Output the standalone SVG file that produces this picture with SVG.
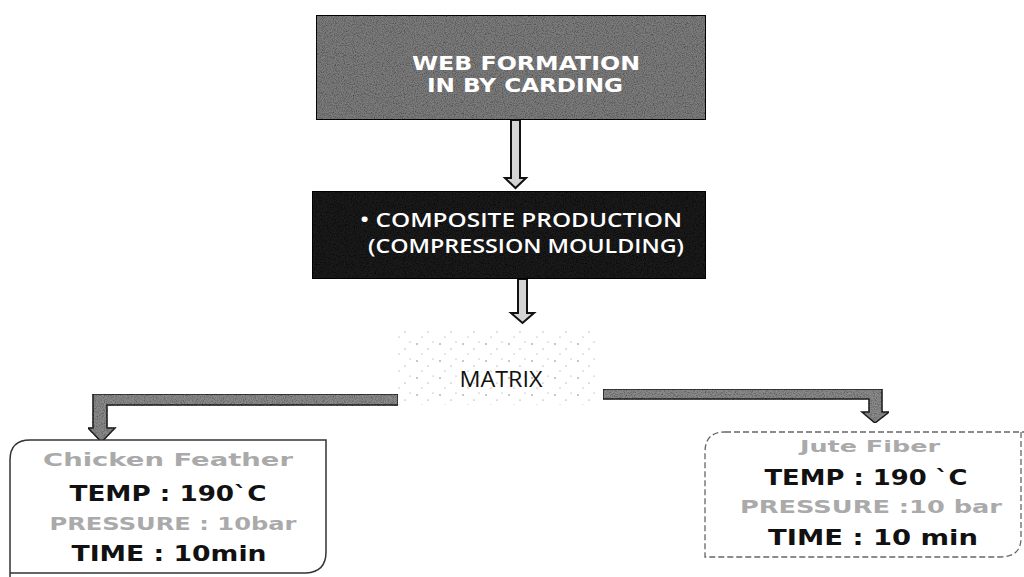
<svg xmlns="http://www.w3.org/2000/svg" width="1024" height="577" viewBox="0 0 1024 577">
  <defs>
    <filter id="grain" x="0" y="0" width="100%" height="100%">
      <feTurbulence type="fractalNoise" baseFrequency="0.9" numOctaves="2" seed="3" result="n"/>
      <feColorMatrix in="n" type="matrix" values="0 0 0 0 0  0 0 0 0 0  0 0 0 0 0  0 0 0 1.4 -0.55" result="dots"/>
      <feComposite in="dots" in2="SourceGraphic" operator="in" result="d"/>
      <feMerge><feMergeNode in="SourceGraphic"/><feMergeNode in="d"/></feMerge>
    </filter>
    <pattern id="speck" width="23" height="17" patternUnits="userSpaceOnUse">
      <circle cx="3" cy="4" r="0.7" fill="#666"/>
      <circle cx="14" cy="9" r="0.6" fill="#777"/>
      <circle cx="8" cy="14" r="0.6" fill="#888"/>
      <circle cx="19" cy="2" r="0.5" fill="#777"/>
    </pattern>
    <style>
      .arrow { fill: #d4d4d4; stroke: #111; stroke-width: 2; stroke-linejoin: miter; }
      .bar { fill: #8a8a8a; stroke: #222; stroke-width: 1.5; }
      .title { font-family: "DejaVu Sans", "Liberation Sans", sans-serif; font-weight: bold; fill: #fff; text-anchor: middle; }
      .calibri { font-family: "Open Sans", "Liberation Sans", sans-serif; text-anchor: middle; }
      .bold { font-family: "DejaVu Sans", "Liberation Sans", sans-serif; font-weight: bold; fill: #111; text-anchor: middle; }
      .faint { font-family: "DejaVu Sans", "Liberation Sans", sans-serif; font-weight: bold; fill: #aaa; text-anchor: middle; }
    </style>
  </defs>
  <rect width="1024" height="577" fill="#fff"/>

  <g id="connectors">
    <path class="arrow" d="M511,120 L520,120 L520,178 L526,178 L515.5,188 L505,178 L511,178 Z"/>
    <path class="arrow" d="M518,279 L527,279 L527,313 L534,313 L522.5,323 L511,313 L518,313 Z"/>
    <path class="bar" d="M398,394 L93,394 L93,428 L88,428 L101.5,442 L115,428 L107,428 L107,405 L398,405 Z" filter="url(#grain)"/>
    <path class="bar" d="M603,389 L882,389 L882,412 L889,412 L875,423 L862,412 L869,412 L869,399 L603,399 Z" filter="url(#grain)"/>
  </g>

  <g id="web-formation">
    <rect x="316" y="15" width="390" height="105" fill="#7c7c7c" stroke="#111" stroke-width="2" filter="url(#grain)"/>
    <text class="title" x="526" y="70" font-size="20" textLength="228" lengthAdjust="spacingAndGlyphs">WEB FORMATION</text>
    <text class="title" x="525" y="92" font-size="20" textLength="196" lengthAdjust="spacingAndGlyphs">IN BY CARDING</text>
  </g>

  <g id="composite">
    <rect x="312" y="191" width="394" height="88" fill="#1c1c1c" stroke="#000" stroke-width="2" filter="url(#grain)"/>
    <text class="calibri" x="521" y="227" font-size="20" font-weight="600" fill="#fff" textLength="322" lengthAdjust="spacingAndGlyphs">• COMPOSITE  PRODUCTION</text>
    <text class="calibri" x="526" y="253" font-size="20" font-weight="600" fill="#fff" textLength="316" lengthAdjust="spacingAndGlyphs">(COMPRESSION MOULDING)</text>
  </g>

  <g id="matrix">
    <rect x="395" y="330" width="200" height="75" fill="url(#speck)"/>
    <text class="calibri" x="501" y="387" font-size="21" fill="#111" textLength="83" lengthAdjust="spacingAndGlyphs">MATRIX</text>
  </g>

  <g id="chicken-feather">
    <path d="M30,440 L326,440 L326,552 Q326,572 306,573 L10,573 L10,577 M10,577 L10,460 Q10,440 30,440" fill="#fff" stroke="#333" stroke-width="1.5"/>
    <text class="faint" x="168" y="466" font-size="17" textLength="250" lengthAdjust="spacingAndGlyphs">Chicken Feather</text>
    <text class="bold" x="168" y="501" font-size="22" textLength="197" lengthAdjust="spacingAndGlyphs">TEMP : 190`C</text>
    <text class="faint" x="173" y="530" font-size="17" textLength="247" lengthAdjust="spacingAndGlyphs">PRESSURE : 10bar</text>
    <text class="bold" x="169" y="561" font-size="22" textLength="195" lengthAdjust="spacingAndGlyphs">TIME : 10min</text>
  </g>

  <g id="jute-fiber">
    <path d="M725,432 L1024,432 M1021,432 L1021,538 Q1021,557 1000,557 L705,557 L705,452 Q705,432 725,432" fill="#fff" stroke="#666" stroke-width="1.3" stroke-dasharray="6 3"/>
    <text class="faint" x="870" y="452" font-size="16" textLength="140" lengthAdjust="spacingAndGlyphs">Jute Fiber</text>
    <text class="bold" x="866" y="485" font-size="22" textLength="203" lengthAdjust="spacingAndGlyphs">TEMP : 190 `C</text>
    <text class="faint" x="871" y="513" font-size="17" textLength="262" lengthAdjust="spacingAndGlyphs">PRESSURE :10 bar</text>
    <text class="bold" x="873" y="545" font-size="22" textLength="210" lengthAdjust="spacingAndGlyphs">TIME : 10 min</text>
  </g>
</svg>
